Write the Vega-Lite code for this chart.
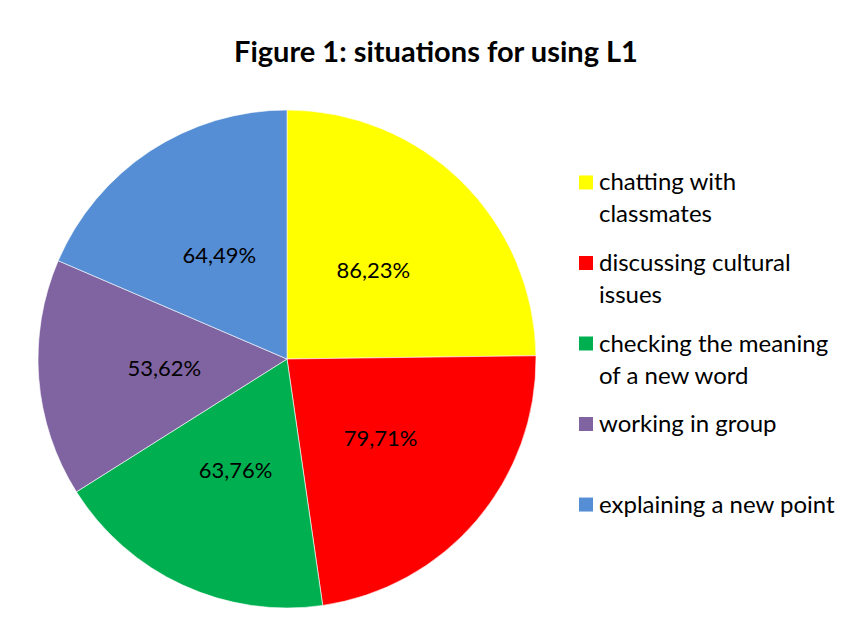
{
  "$schema": "https://vega.github.io/schema/vega-lite/v6.json",
  "padding": {"left": 36, "top": 38, "right": 10, "bottom": 20},
  "background": "white",
  "title": {
    "text": "Figure 1: situations for using L1",
    "font": "Lato",
    "fontSize": 29,
    "fontWeight": "bold",
    "color": "#000000",
    "anchor": "middle",
    "frame": "bounds",
    "offset": 41
  },
  "datasets": {
    "situations": [
      {"situation": "chatting with classmates", "label": "chatting with|classmates", "pct": 86.23, "text": "86,23%", "order": 1},
      {"situation": "discussing cultural issues", "label": "discussing cultural|issues", "pct": 79.71, "text": "79,71%", "order": 2},
      {"situation": "checking the meaning of a new word", "label": "checking the meaning|of a new word", "pct": 63.76, "text": "63,76%", "order": 3},
      {"situation": "working in group", "label": "working in group", "pct": 53.62, "text": "53,62%", "order": 4},
      {"situation": "explaining a new point", "label": "explaining a new point", "pct": 64.49, "text": "64,49%", "order": 5}
    ]
  },
  "config": {"view": {"stroke": null}},
  "hconcat": [
    {
      "width": 498,
      "height": 498,
      "data": {"name": "situations"},
      "encoding": {
        "theta": {"field": "pct", "type": "quantitative", "stack": true},
        "order": {"field": "order", "type": "quantitative"},
        "color": {
          "field": "situation",
          "type": "nominal",
          "sort": ["chatting with classmates", "discussing cultural issues", "checking the meaning of a new word", "working in group", "explaining a new point"],
          "scale": {
            "domain": ["chatting with classmates", "discussing cultural issues", "checking the meaning of a new word", "working in group", "explaining a new point"],
            "range": ["#FFFF00", "#FF0000", "#00B050", "#8064A2", "#558ED5"]
          },
          "legend": null
        }
      },
      "layer": [
        {"mark": {"type": "arc", "stroke": "#ffffff", "strokeWidth": 0.6}},
        {
          "mark": {"type": "text", "radius": 123, "font": "Lato", "fontSize": 22, "color": "#000000", "align": "center", "baseline": "middle"},
          "encoding": {"text": {"field": "text", "type": "nominal"}, "color": {"value": "#000000"}}
        }
      ]
    },
    {
      "width": 58,
      "height": 467,
      "data": {"name": "situations"},
      "encoding": {
        "y": {
          "field": "situation",
          "type": "nominal",
          "sort": {"field": "order"},
          "scale": {"type": "point", "padding": 0.9},
          "axis": null
        }
      },
      "layer": [
        {
          "mark": {"type": "point", "shape": "square", "filled": true, "size": 196, "opacity": 1},
          "encoding": {
            "color": {"field": "situation", "type": "nominal", "legend": null}
          }
        },
        {
          "mark": {"type": "text", "align": "left", "baseline": "alphabetic", "dx": 13, "dy": 8, "font": "Lato", "fontSize": 24, "lineHeight": 32, "lineBreak": "|", "color": "#000000"},
          "encoding": {"text": {"field": "label", "type": "nominal"}}
        }
      ]
    }
  ],
  "spacing": 19
}
